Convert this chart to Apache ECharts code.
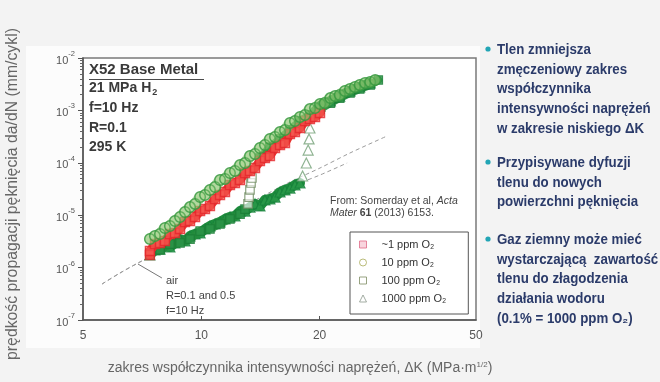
<!DOCTYPE html>
<html>
<head>
<meta charset="utf-8">
<script src="https://cdn.jsdelivr.net/npm/echarts@6/dist/echarts.min.js"></script>
<style>
  html, body { margin: 0; padding: 0; background: #f3f3f3; }
  #chart { width: 660px; height: 382px; }
</style>
</head>
<body>
<div id="chart"></div>
<script>
// Fatigue crack growth of X52 base metal in 21 MPa H2 with O2 additions.
// dK in MPa·m^1/2, rate (da/dN) in mm/cycle.

const dk_1ppm = [7.40, 7.40, 7.62, 7.85, 8.08, 8.32, 8.57, 8.83, 9.09, 9.36, 9.64, 9.93, 10.22, 10.52, 10.84, 11.16, 11.49, 11.83, 12.18, 12.55, 12.92, 13.30, 13.70, 14.10, 14.52, 14.95, 15.40, 15.86, 16.33, 16.81, 17.31, 17.83, 18.36, 18.90, 19.47, 20.05];
const rate_1ppm = [1.74e-6, 2.07e-6, 2.82e-6, 2.95e-6, 3.22e-6, 4.38e-6, 4.57e-6, 5.45e-6, 7.42e-6, 7.75e-6, 9.24e-6, 1.20e-5, 1.31e-5, 1.50e-5, 2.04e-5, 2.43e-5, 2.77e-5, 3.77e-5, 4.12e-5, 4.70e-5, 6.39e-5, 6.97e-5, 7.96e-5, 1.08e-4, 1.235e-4, 1.35e-4, 1.92e-4, 2.19e-4, 2.39e-4, 3.54e-4, 3.87e-4, 4.61e-4, 6.28e-4, 6.85e-4, 7.48e-4, 8.92e-4];

const dk_10ppm = [7.40, 7.62, 7.85, 8.08, 8.32, 8.57, 8.83, 9.09, 9.36, 9.64, 9.93, 10.22, 10.52, 10.84, 11.16, 11.49, 11.83, 12.18, 12.55, 12.92, 13.30, 13.70, 14.10, 14.52, 14.95, 15.40, 15.86, 16.33, 16.81, 17.31, 17.83, 18.36, 18.90, 19.47, 20.05, 20.6, 21.3, 21.9, 22.5, 23.2, 23.9, 24.6, 25.3, 26.1, 26.9, 27.7];
const rate_10ppm = [3.51e-6, 4.01e-6, 4.38e-6, 5.70e-6, 6.22e-6, 7.75e-6, 9.24e-6, 1.15e-5, 1.43e-5, 1.64e-5, 2.22e-5, 2.43e-5, 3.03e-5, 3.45e-5, 4.70e-5, 4.91e-5, 6.39e-5, 6.97e-5, 9.08e-5, 9.91e-5, 1.35e-4, 1.47e-4, 1.92e-4, 2.19e-4, 2.85e-4, 3.11e-4, 3.87e-4, 4.23e-4, 5.75e-4, 6.28e-4, 7.48e-4, 8.17e-4, 1.06e-3, 1.11e-3, 1.325e-3, 1.38e-3, 1.72e-3, 1.88e-3, 1.97e-3, 2.35e-3, 2.56e-3, 2.80e-3, 3.05e-3, 3.33e-3, 3.48e-3, 3.80e-3];

const dk_100ppm = [7.40, 7.85, 8.32, 8.83, 9.36, 9.93, 10.52, 11.16, 11.83, 12.55, 12.92, 13.15, 13.23, 13.30, 13.38, 13.45, 14.10, 14.95, 15.86, 16.81, 17.83, 18.90, 20.05, 21.3, 22.5, 23.9, 25.3, 26.9, 28.2];
const rate_100ppm = [1.90e-6, 2.17e-6, 2.82e-6, 2.95e-6, 3.51e-6, 4.99e-6, 5.45e-6, 6.79e-6, 8.46e-6, 1.05e-5, 1.31e-5, 1.64e-5, 2.22e-5, 3.03e-5, 4.12e-5, 5.13e-5, 1.235e-4, 2.00e-4, 2.85e-4, 4.23e-4, 6.28e-4, 8.17e-4, 1.06e-3, 1.38e-3, 1.72e-3, 2.15e-3, 2.56e-3, 3.05e-3, 3.80e-3];

const dk_1000ppm = [7.40, 7.62, 7.85, 8.08, 8.32, 8.57, 8.83, 9.09, 9.36, 9.64, 9.93, 10.22, 10.52, 10.84, 11.16, 11.49, 11.83, 12.18, 12.55, 12.92, 13.30, 13.70, 14.10, 14.52, 14.95, 15.40, 15.86, 16.33, 16.81, 17.31, 17.83, 18.1, 18.5, 18.7, 18.8, 18.9, 19.47, 20.05, 21.3, 22.5, 23.9, 25.3, 26.9];
const rate_1000ppm = [1.74e-6, 2.17e-6, 2.26e-6, 2.70e-6, 2.47e-6, 2.95e-6, 3.51e-6, 3.22e-6, 4.01e-6, 4.38e-6, 4.57e-6, 5.45e-6, 6.22e-6, 6.79e-6, 7.42e-6, 8.46e-6, 9.24e-6, 9.65e-6, 1.20e-5, 1.20e-5, 1.43e-5, 1.64e-5, 1.50e-5, 1.95e-5, 2.04e-5, 2.22e-5, 2.77e-5, 3.03e-5, 3.30e-5, 3.77e-5, 4.12e-5, 5.60e-5, 9.91e-5, 1.75e-4, 2.85e-4, 4.61e-4, 9.74e-4, 1.21e-3, 1.51e-3, 1.88e-3, 2.35e-3, 2.80e-3, 3.33e-3];

// reference curves measured in air
const dk_airR01 = [5.59, 6.21, 6.98, 7.85, 9.93, 13.30, 16.81, 20.05, 23.5];
const rate_airR01 = [4.86e-7, 7.88e-7, 1.28e-6, 1.98e-6, 4.99e-6, 1.50e-5, 3.45e-5, 5.85e-5, 9.91e-5];
const dk_airR05 = [5.59, 6.21, 6.98, 7.85, 9.93, 13.30, 16.81, 20.05, 23.9, 29.7];
const rate_airR05 = [4.86e-7, 7.88e-7, 1.28e-6, 1.98e-6, 5.22e-6, 1.71e-5, 4.30e-5, 7.96e-5, 1.54e-4, 3.25e-4];
const dk_airLeader = [6.90, 7.94];
const rate_airLeader = [1.17e-6, 6.33e-7];

// axis ticks
const xTickLabels = [5, 10, 20, 50];
const xTickMarks = [10, 20];
const yDecades = [-7, -6, -5, -4, -3, -2];

const seriesNames = ['~1 ppm O₂', '10 ppm O₂', '100 ppm O₂', '1000 ppm O₂'];

const bulletBlocks = [
  ['Tlen zmniejsza', 'zmęczeniowy zakres', 'współczynnika', 'intensywności naprężeń', 'w zakresie niskiego ΔK'],
  ['Przypisywane dyfuzji', 'tlenu do nowych', 'powierzchni pęknięcia'],
  ['Gaz ziemny może mieć', 'wystarczającą  zawartość', 'tlenu do złagodzenia', 'działania wodoru', '(0.1% = 1000 ppm O₂)']
];

// both axes are decades: points are placed on linear axes holding log10 values
const lg = v => Math.log10(v);
const pts = (dk, rate) => dk.map((k, i) => [lg(k), lg(rate[i])]);

// minor tick positions 2..9 within every decade
const yMinor = [];
for (let e = -7; e < -2; e++) for (let m = 2; m <= 9; m++) yMinor.push(e + Math.log10(m));

const UI_FONT = "'Liberation Sans', Arial, sans-serif";

// points of a jump between the two branches are drawn as open symbols
function openPoints(data, from, to, style) {
  return data.map((p, i) => (i >= from && i <= to) ? { value: p, itemStyle: style } : p);
}
// continuous band under the symbols, broken across the jump
function bandPath(data, from, to) {
  return data.map((p, i) => (i >= from && i <= to) ? [p[0], '-'] : p);
}
function band(data, color, width, z) {
  return {
    type: 'line', data: data, symbol: 'none', silent: true, z: z,
    connectNulls: false, lineStyle: { color: color, width: width, cap: 'round', join: 'round' }
  };
}

const p1 = pts(dk_1ppm, rate_1ppm);
const p10 = pts(dk_10ppm, rate_10ppm);
const p100 = pts(dk_100ppm, rate_100ppm);
const p1000 = pts(dk_1000ppm, rate_1000ppm);

const chart = echarts.init(document.getElementById('chart'), null, { renderer: 'canvas' });

const graphics = [];
// light panel behind the plot
graphics.push({ type: 'rect', z: -10, shape: { x: 26, y: 46, width: 454, height: 302 }, style: { fill: '#fcfcfc' }, silent: true });

// top-left test conditions
const condLines = [
  { t: '21 MPa H{s|2}', y: 88 },
  { t: 'f=10 Hz', y: 108 },
  { t: 'R=0.1', y: 128 },
  { t: '295 K', y: 147 }
];
graphics.push({ type: 'text', x: 89, y: 70, style: { text: 'X52 Base Metal', font: 'bold 15px ' + UI_FONT, fill: '#3a3a3a', align: 'left', verticalAlign: 'middle' } });
graphics.push({ type: 'line', shape: { x1: 89, y1: 79.5, x2: 204, y2: 79.5 }, style: { stroke: '#4a4a4a', lineWidth: 1 } });
condLines.forEach(c => graphics.push({
  type: 'text', x: 89, y: c.y,
  style: {
    text: c.t, font: 'bold 14px ' + UI_FONT, fill: '#3a3a3a', align: 'left', verticalAlign: 'middle',
    rich: { s: { font: 'bold 9px ' + UI_FONT, fill: '#3a3a3a', padding: [10, 0, 0, 1] } }
  }
}));

// air curve annotation
['air', 'R=0.1 and 0.5', 'f=10 Hz'].forEach((t, i) => graphics.push({
  type: 'text', x: 166, y: 281 + i * 15,
  style: { text: t, font: '11px ' + UI_FONT, fill: '#444', align: 'left', verticalAlign: 'middle' }
}));

// source note
graphics.push({
  type: 'text', x: 330, y: 195,
  style: {
    text: 'From: Somerday et al, {i|Acta}\n{i|Mater} {b|61} (2013) 6153.',
    font: '10.5px ' + UI_FONT, fill: '#444', lineHeight: 12, align: 'left', verticalAlign: 'top',
    rich: {
      i: { font: 'italic 10.5px ' + UI_FONT, fill: '#444' },
      b: { font: 'bold 10.5px ' + UI_FONT, fill: '#444' }
    }
  }
});

// axis titles
graphics.push({
  type: 'text', x: 13, y: 194, rotation: Math.PI / 2,
  style: { text: 'prędkość propagacji pęknięcia da/dN (mm/cykl)', font: '15.8px ' + UI_FONT, fill: '#666', align: 'center', verticalAlign: 'middle' }
});
graphics.push({
  type: 'text', x: 300, y: 368,
  style: {
    text: 'zakres współczynnika intensywności naprężeń, ΔK (MPa·m{s|1/2})',
    font: '14px ' + UI_FONT, fill: '#666', align: 'center', verticalAlign: 'middle',
    rich: { s: { font: '8px ' + UI_FONT, fill: '#666', padding: [0, 0, 7, 0] } }
  }
});

// bullet points on the right
const blockTops = [50, 163, 240];
bulletBlocks.forEach((lines, b) => {
  graphics.push({ type: 'circle', shape: { cx: 488, cy: blockTops[b] - 1, r: 2.6 }, style: { fill: '#22a5b5' } });
  graphics.push({
    type: 'text', x: 497, y: blockTops[b] - 10, scaleX: 0.95,
    style: { text: lines.join('\n'), font: 'bold 14px ' + UI_FONT, fill: '#2b3b6a', lineHeight: 19.8, align: 'left', verticalAlign: 'top' }
  });
});

const option = {
  animation: false,
  backgroundColor: '#f3f3f3',
  grid: {
    left: 83, right: 184, top: 58, bottom: 62,
    show: true, backgroundColor: '#ffffff', borderColor: '#7a7a7a', borderWidth: 1.5,
    outerBoundsMode: 'none', containLabel: false
  },
  xAxis: {
    type: 'value', min: lg(5), max: lg(50),
    splitLine: { show: false },
    axisLine: { onZero: false, lineStyle: { color: '#555', width: 1.5 } },
    axisTick: { inside: true, length: 4, customValues: xTickMarks.map(lg), lineStyle: { color: '#555' } },
    axisLabel: {
      customValues: xTickLabels.map(lg), margin: 10, color: '#555', fontSize: 12, fontFamily: UI_FONT,
      formatter: v => String(Math.round(Math.pow(10, v)))
    }
  },
  yAxis: [
    {
      type: 'value', min: yDecades[0], max: yDecades[yDecades.length - 1], interval: 1,
      splitLine: { show: false },
      axisLine: { onZero: false, lineStyle: { color: '#555', width: 1.5 } },
      axisTick: { length: 5, lineStyle: { color: '#555' } },
      axisLabel: {
        margin: 8, color: '#555', fontFamily: UI_FONT,
        formatter: v => '{b|10}{s|' + v + '}',
        rich: {
          b: { fontSize: 11, lineHeight: 16, verticalAlign: 'bottom', color: '#555', fontFamily: UI_FONT },
          s: { fontSize: 7.5, lineHeight: 10, verticalAlign: 'top', color: '#555', fontFamily: UI_FONT }
        }
      }
    },
    {
      type: 'value', min: yDecades[0], max: yDecades[yDecades.length - 1], position: 'left',
      splitLine: { show: false },
      axisLine: { show: false, onZero: false },
      axisLabel: { show: false },
      axisTick: { length: 3, customValues: yMinor, lineStyle: { color: '#666' } }
    }
  ],
  legend: {
    orient: 'vertical', left: 350, top: 232,
    padding: [6, 22, 9, 9], itemGap: 5, itemWidth: 7, itemHeight: 7,
    backgroundColor: '#fff', borderColor: '#555', borderWidth: 1, borderRadius: 0,
    selectedMode: false,
    textStyle: { fontSize: 11, lineHeight: 13, color: '#333', fontFamily: UI_FONT, padding: [0, 0, 0, 10] },
    data: [
      { name: seriesNames[0], icon: 'rect', itemStyle: { color: 'rgba(240,160,180,0.55)', borderColor: '#e06a88', borderWidth: 1 } },
      { name: seriesNames[1], icon: 'circle', itemStyle: { color: '#fff', borderColor: '#a7aa58', borderWidth: 1 } },
      { name: seriesNames[2], icon: 'rect', itemStyle: { color: '#fff', borderColor: '#7e8c63', borderWidth: 1 } },
      { name: seriesNames[3], icon: 'triangle', itemStyle: { color: '#fff', borderColor: '#8c988c', borderWidth: 1 } }
    ]
  },
  series: [
    {
      name: 'air R=0.1', type: 'line', data: pts(dk_airR01, rate_airR01), symbol: 'none', smooth: 0.3, silent: true,
      lineStyle: { color: '#9c9c9c', width: 1, type: [4, 3] }, z: 1
    },
    {
      name: 'air R=0.5', type: 'line', data: pts(dk_airR05, rate_airR05), symbol: 'none', smooth: 0.3, silent: true,
      lineStyle: { color: '#9c9c9c', width: 1, type: [4, 3] }, z: 1
    },
    {
      name: 'air label', type: 'line', data: pts(dk_airLeader, rate_airLeader), symbol: 'none', silent: true,
      lineStyle: { color: '#777', width: 1 }, z: 1
    },
    band(bandPath(p1000, 31, 35), '#1f8d3d', 10, 2),
    {
      name: seriesNames[3], type: 'scatter', symbol: 'triangle', symbolSize: 10, z: 3,
      data: openPoints(p1000, 31, 35, { color: 'rgba(255,255,255,0.8)', borderColor: '#73a077', borderWidth: 1.2 }),
      itemStyle: { color: '#2a9a4a', borderColor: '#15813a', borderWidth: 1.2 }
    },
    band(bandPath(p100, 11, 15), 'rgba(35,140,60,0.9)', 8, 4),
    {
      name: seriesNames[2], type: 'scatter', symbol: 'rect', symbolSize: 8.5, z: 5,
      data: openPoints(p100, 11, 15, { color: 'rgba(255,255,255,0.8)', borderColor: '#6d8a5e', borderWidth: 1.2 }),
      itemStyle: { color: '#2c9448', borderColor: '#1a7d36', borderWidth: 1.2 }
    },
    band(p1, '#ea3530', 9, 6),
    {
      name: seriesNames[0], type: 'scatter', symbol: 'rect', symbolSize: 9, z: 7,
      data: p1,
      itemStyle: { color: 'rgba(246,96,88,0.7)', borderColor: '#e3262b', borderWidth: 1.4 }
    },
    band(p10, 'rgba(120,185,95,0.55)', 11, 8),
    {
      name: seriesNames[1], type: 'scatter', symbol: 'circle', symbolSize: 10.5, z: 9,
      data: p10,
      itemStyle: { color: 'rgba(170,215,130,0.3)', borderColor: '#33973d', borderWidth: 1.5 }
    }
  ],
  graphic: graphics
};

chart.setOption(option);
</script>
</body>
</html>
